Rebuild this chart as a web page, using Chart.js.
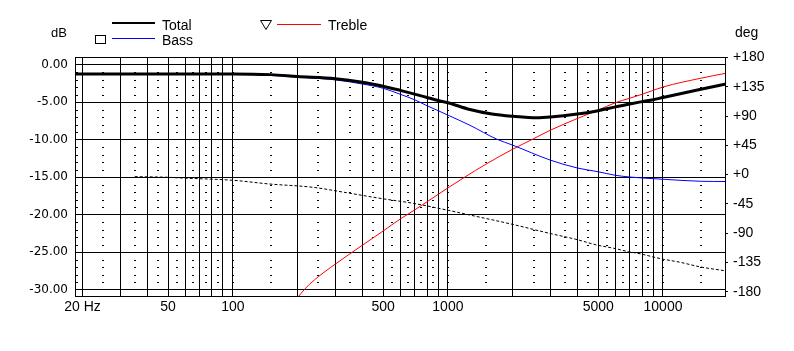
<!DOCTYPE html>
<html>
<head>
<meta charset="utf-8">
<script src="https://cdn.jsdelivr.net/npm/chart.js@4.4.0/dist/chart.umd.min.js"></script>
<style>
html, body { margin: 0; padding: 0; background: #fff; }
</style>
</head>
<body>
<canvas id="c" width="794" height="351"></canvas>
<script>
// magnitude readings, Hz / dB
var totalFreq = [18.46, 100, 150, 200, 300, 400, 500, 600, 700, 800, 900, 1000, 1265, 1600, 2000, 2600, 3000, 4000, 5000, 6000, 7000, 8000, 9000, 10000, 15000, 19630];
var totalDb   = [-1.25, -1.25, -1.35, -1.6, -1.9, -2.36, -2.9, -3.45, -3.95, -4.4, -4.8, -5.1, -6.0, -6.6, -6.9, -7.1, -7.0, -6.6, -6.16, -5.65, -5.27, -4.95, -4.7, -4.4, -3.3, -2.6];

var bassFreq = [18.46, 50, 100, 150, 200, 300, 400, 500, 600, 700, 800, 900, 1000, 1265, 1685, 2000, 3000, 4000, 5000, 6000, 7000, 8000, 10000, 15000, 19630];
var bassDb   = [-1.25, -1.25, -1.3, -1.45, -1.69, -2.05, -2.6, -3.17, -3.97, -4.7, -5.5, -6.15, -6.75, -8.1, -9.95, -10.75, -12.76, -13.8, -14.3, -14.77, -15.0, -15.13, -15.3, -15.57, -15.6];

var trebleFreq = [200, 215, 240, 300, 400, 500, 600, 700, 800, 1000, 1200, 1500, 2000, 2500, 3000, 4000, 5000, 6000, 7000, 8000, 10000, 15000, 19630];
var trebleDb   = [-31.1, -30.0, -28.7, -26.6, -24.1, -22.2, -20.6, -19.4, -18.3, -16.45, -15.0, -13.3, -11.3, -9.9, -8.75, -7.2, -6.07, -5.1, -4.5, -3.97, -3.0, -1.83, -1.16];

// phase readings, Hz / deg (right axis)
var phaseFreq = [35, 50, 57, 100, 148, 236, 338, 483, 690, 988, 1265, 1965, 2964, 3933, 4930, 5895, 6928, 7912, 8893, 9909, 12050, 14770, 19630];
var phaseDeg  = [-3.1, -4.1, -5.1, -8.7, -14.4, -19.5, -27.8, -36.4, -44.1, -54.4, -62.1, -75.9, -90.2, -99.4, -108.2, -113.2, -118.5, -122, -126.1, -129.7, -134.8, -141.6, -148];

// axes
var gridFreq = [20, 30, 40, 50, 60, 70, 80, 90, 100, 200, 300, 400, 500, 600, 700, 800, 900, 1000,
                2000, 3000, 4000, 5000, 6000, 7000, 8000, 9000, 10000];
var minorFreq = [25, 35, 45, 55, 65, 75, 85, 100, 150, 250, 350, 450, 550, 650, 750, 850, 1000,
                 1500, 2500, 3500, 4500, 5500, 6500, 7500, 8500, 10000, 15000];
var freqLabels = [20, 50, 100, 500, 1000, 5000, 10000];
var dbTicks = [0, -5, -10, -15, -20, -25, -30];
var degTicks = [180, 135, 90, 45, 0, -45, -90, -135, -180];

function pts(fs, vs) {
  return fs.map(function (f, i) { return { x: f, y: vs[i] }; });
}

var minorDb = [];
for (var d = -1; d > -30; d--) { if (d % 5 !== 0) minorDb.push(d); }

var decor = {
  id: 'decor',
  beforeDatasetsDraw: function (chart) {
    var ctx = chart.ctx, a = chart.chartArea, xs = chart.scales.x, ys = chart.scales.y;
    ctx.save();
    ctx.fillStyle = '#000';
    minorFreq.forEach(function (f) {
      var px = Math.round(xs.getPixelForValue(f) - 1);
      minorDb.forEach(function (v) {
        ctx.fillRect(px, Math.round(ys.getPixelForValue(v)), 2, 1);
      });
    });
    minorDb.forEach(function (v) {
      ctx.fillRect(a.left + 1, Math.round(ys.getPixelForValue(v)), 2, 1);
    });
    ctx.restore();
  },
  afterDraw: function (chart) {
    var ctx = chart.ctx, a = chart.chartArea, ds = chart.data.datasets;
    ctx.save();
    ctx.strokeStyle = '#000';
    ctx.lineWidth = 1;
    ctx.strokeRect(a.left + 0.5, a.top + 0.5, a.right - a.left - 1, a.bottom - a.top - 1);

    ctx.fillStyle = '#000';
    ctx.textBaseline = 'alphabetic';
    ctx.font = '13px "Liberation Sans", Arial, sans-serif';
    ctx.fillText('dB', 51, 37);
    ctx.font = '14px "Liberation Sans", Arial, sans-serif';
    ctx.fillText('deg', 735, 37);

    // legend
    ctx.fillStyle = ds[0].borderColor;
    ctx.fillRect(112, 22, 43, 2);
    ctx.fillStyle = ds[1].borderColor;
    ctx.fillRect(112, 38, 43, 1);
    ctx.fillStyle = ds[2].borderColor;
    ctx.fillRect(277, 24, 44, 1);
    ctx.strokeStyle = '#000';
    ctx.strokeRect(95.5, 35.5, 10, 8);
    ctx.beginPath();
    ctx.moveTo(260.5, 20.5);
    ctx.lineTo(271.5, 20.5);
    ctx.lineTo(266, 29.5);
    ctx.closePath();
    ctx.stroke();
    ctx.fillStyle = '#000';
    ctx.fillText(ds[0].label, 162, 30);
    ctx.fillText(ds[1].label, 162, 45);
    ctx.fillText(ds[2].label, 328, 30);
    ctx.restore();
  }
};

var tickFont = { family: '"Liberation Sans", Arial, sans-serif', size: 14 };

new Chart(document.getElementById('c').getContext('2d'), {
  type: 'line',
  data: {
    datasets: [
      { label: 'Total', data: pts(totalFreq, totalDb), borderColor: '#000000', borderWidth: 3, yAxisID: 'y' },
      { label: 'Bass', data: pts(bassFreq, bassDb), borderColor: '#0000ff', borderWidth: 1, yAxisID: 'y' },
      { label: 'Treble', data: pts(trebleFreq, trebleDb), borderColor: '#ff0000', borderWidth: 1, yAxisID: 'y' },
      { label: 'Phase', data: pts(phaseFreq, phaseDeg), borderColor: '#000000', borderWidth: 1, borderDash: [3, 2], yAxisID: 'y1' }
    ]
  },
  options: {
    responsive: false,
    animation: false,
    devicePixelRatio: 1,
    layout: { padding: { top: 57, left: 0, right: 0, bottom: 0 } },
    elements: {
      point: { radius: 0 },
      line: { cubicInterpolationMode: 'monotone', fill: false }
    },
    plugins: { legend: { display: false }, tooltip: { enabled: false } },
    scales: {
      x: {
        type: 'logarithmic',
        position: 'bottom',
        min: 18.46,
        max: 19630,
        afterBuildTicks: function (s) { s.ticks = gridFreq.map(function (v) { return { value: v }; }); },
        afterFit: function (s) { s.height = 54; },
        grid: { color: '#000', lineWidth: 1, drawTicks: false },
        border: { display: false },
        ticks: {
          autoSkip: false, maxRotation: 0, padding: 2, color: '#000', font: tickFont,
          callback: function (v) {
            if (freqLabels.indexOf(v) < 0) return '';
            return v === 20 ? '20 Hz' : String(v);
          }
        }
      },
      y: {
        position: 'left',
        min: -31,
        max: 1,
        afterBuildTicks: function (s) { s.ticks = dbTicks.map(function (v) { return { value: v }; }); },
        afterFit: function (s) { s.width = 75; },
        grid: { color: '#000', lineWidth: 1, drawTicks: false },
        border: { display: false },
        ticks: {
          padding: 7, color: '#000',
          font: { family: '"DejaVu Sans", sans-serif', size: 12 },
          callback: function (v) { return v.toFixed(2); }
        }
      },
      y1: {
        position: 'right',
        min: -188.1,
        max: 180.8,
        afterBuildTicks: function (s) { s.ticks = degTicks.map(function (v) { return { value: v }; }); },
        afterFit: function (s) { s.width = 68; },
        grid: { drawOnChartArea: false, drawTicks: true, tickLength: 2, color: '#000' },
        border: { display: false },
        ticks: {
          padding: 5, color: '#000', font: tickFont,
          callback: function (v) { return (v >= 0 ? '+' : '') + v; }
        }
      }
    }
  },
  plugins: [decor]
});
</script>
</body>
</html>
